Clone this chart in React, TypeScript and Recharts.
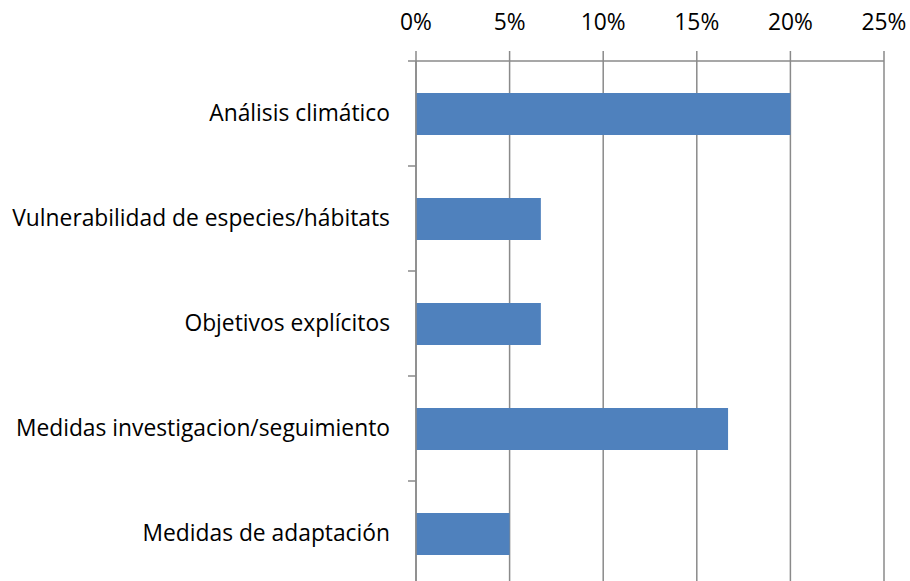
import React from 'react';
import { BarChart, Bar, XAxis, YAxis, CartesianGrid } from 'recharts';

const categories = [
  'Análisis climático',
  'Vulnerabilidad de especies/hábitats',
  'Objetivos explícitos',
  'Medidas investigacion/seguimiento',
  'Medidas de adaptación',
];
const shares = [0.2, 0.0667, 0.0667, 0.1667, 0.05];
const pctTicks = [0, 0.05, 0.1, 0.15, 0.2, 0.25];

const data = categories.map((name, i) => ({ name, value: shares[i] }));

const GRID = '#8a8a8a';
const BAR = '#4f81bd';
const FONT = '"Open Sans", Lato, sans-serif';
const FONT_SIZE = 22.8;
const TICK_LEN = 8;
const TICK_GAP = 18;

// category labels centred in the band, tick marks on the band edges (Excel style)
function CategoryTick(props: any) {
  const { x, y, payload, index, visibleTicksCount, height } = props;
  const half = payload?.offset || height / visibleTicksCount / 2;
  const axisX = x + TICK_GAP + TICK_LEN;
  const last = index === visibleTicksCount - 1;
  return (
    <g>
      <text x={x} y={y} dy="0.35em" textAnchor="end" fill="#000" fontSize={FONT_SIZE} fontFamily={FONT}>
        {payload.value}
      </text>
      <line x1={axisX - TICK_LEN} x2={axisX} y1={y - half} y2={y - half} stroke={GRID} strokeWidth={1.5} />
      {last && (
        <line x1={axisX - TICK_LEN} x2={axisX} y1={y + half} y2={y + half} stroke={GRID} strokeWidth={1.5} />
      )}
    </g>
  );
}

export default function App() {
  return (
    <div style={{ position: 'fixed', left: 0, top: 0, width: 910, height: 581, overflow: 'hidden', background: '#fff' }}>
      <BarChart
        width={910}
        height={620}
        data={data}
        layout="vertical"
        margin={{ top: 0, right: 26, bottom: 34, left: 0 }}
        style={{ fontFamily: FONT }}
      >
        <CartesianGrid horizontal={false} stroke={GRID} strokeWidth={1.5} />
        <XAxis
          type="number"
          orientation="top"
          domain={[0, 0.25]}
          ticks={pctTicks}
          tickFormatter={(v) => `${Math.round(v * 100)}%`}
          height={61}
          tickSize={10}
          tickMargin={21}
          tick={{ fill: '#000', fontSize: FONT_SIZE }}
          axisLine={{ stroke: GRID, strokeWidth: 1.5 }}
          tickLine={{ stroke: GRID, strokeWidth: 1.5 }}
          interval={0}
        />
        <YAxis
          type="category"
          dataKey="name"
          width={416}
          tickSize={TICK_LEN}
          tickMargin={TICK_GAP}
          tickLine={false}
          axisLine={{ stroke: GRID, strokeWidth: 1.5 }}
          tick={<CategoryTick />}
          interval={0}
        />
        <Bar dataKey="value" fill={BAR} barSize={42} isAnimationActive={false} />
      </BarChart>
    </div>
  );
}
